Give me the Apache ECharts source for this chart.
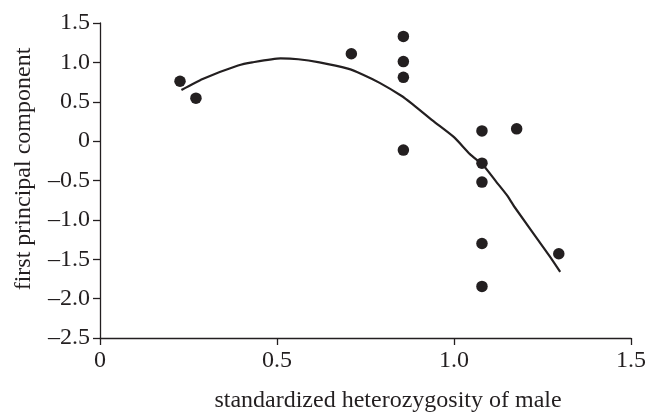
<!DOCTYPE html>
<html>
<head>
<meta charset="utf-8">
<script src="https://cdn.jsdelivr.net/npm/echarts@6/dist/echarts.min.js"></script>
<style>html,body{margin:0;padding:0;background:#fff}#c{width:656px;height:415px}</style>
</head>
<body>
<div id="c"></div>
<script>
const xTicks = [0, 0.5, 1.0, 1.5];
const yTicks = [-2.5, -2.0, -1.5, -1.0, -0.5, 0, 0.5, 1.0, 1.5];
const pointsX = [0.226, 0.271, 0.71, 0.857, 0.857, 0.857, 0.857, 1.079, 1.177, 1.079, 1.079, 1.079, 1.079, 1.296];
const pointsY = [0.76, 0.546, 1.11, 1.33, 1.01, 0.81, -0.114, 0.13, 0.156, -0.28, -0.52, -1.30, -1.845, -1.43];
const curveX = [0.23, 0.29, 0.39, 0.43, 0.51, 0.56, 0.62, 0.70, 0.74, 0.79, 0.85, 0.88, 0.94, 1.00, 1.045, 1.083, 1.12, 1.15, 1.17, 1.27, 1.30];
const curveY = [0.65, 0.79, 0.96, 1.00, 1.05, 1.04, 1.00, 0.92, 0.85, 0.74, 0.58, 0.48, 0.26, 0.05, -0.165, -0.31, -0.52, -0.69, -0.83, -1.46, -1.66];
const xName = 'standardized heterozygosity of male';
const yName = 'first principal component';

const ink = '#231f20';
const font = '"Liberation Serif", "Times New Roman", serif';
const fs = 24;
function fmt(v){ if (Math.abs(v) < 1e-9) return '0'; return (v < 0 ? '\u2013' : '') + Math.abs(v).toFixed(1); }

const chart = echarts.init(document.getElementById('c'), null, {renderer:'canvas'});
chart.setOption({
  animation: false,
  backgroundColor: '#fff',
  grid: {left: 100, right: 25, top: 23, bottom: 77, containLabel: false},
  xAxis: {
    type: 'value', min: xTicks[0], max: xTicks[xTicks.length-1], interval: 0.5,
    axisLine: {onZero: false, lineStyle: {color: ink, width: 1.3}},
    axisTick: {show: true, inside: false, length: 7, lineStyle: {color: ink, width: 1.3}},
    axisLabel: {formatter: fmt, color: ink, fontFamily: font, fontSize: fs, margin: 11},
    splitLine: {show: false}
  },
  yAxis: {
    type: 'value', min: yTicks[0], max: yTicks[yTicks.length-1], interval: 0.5,
    axisLine: {onZero: false, lineStyle: {color: ink, width: 1.3}},
    axisTick: {show: true, inside: false, length: 7, lineStyle: {color: ink, width: 1.3}},
    axisLabel: {formatter: fmt, color: ink, fontFamily: font, fontSize: fs, margin: 10},
    splitLine: {show: false}
  },
  graphic: [
    {type: 'text', x: 388, y: 401, style: {text: xName, font: fs + 'px ' + font, fill: ink, textAlign: 'center', textVerticalAlign: 'middle'}},
    {type: 'text', x: 24, y: 169, rotation: Math.PI/2, style: {text: yName, font: fs + 'px ' + font, fill: ink, textAlign: 'center', textVerticalAlign: 'middle'}}
  ],
  series: [
    {type: 'line', data: curveX.map((x,i)=>[x, curveY[i]]), smooth: 0.2, showSymbol: false, lineStyle: {color: ink, width: 2.2}, z: 2},
    {type: 'scatter', data: pointsX.map((x,i)=>[x, pointsY[i]]), symbol: 'circle', symbolSize: 11.5, itemStyle: {color: ink, opacity: 1}, z: 3}
  ]
});
</script>
</body>
</html>
